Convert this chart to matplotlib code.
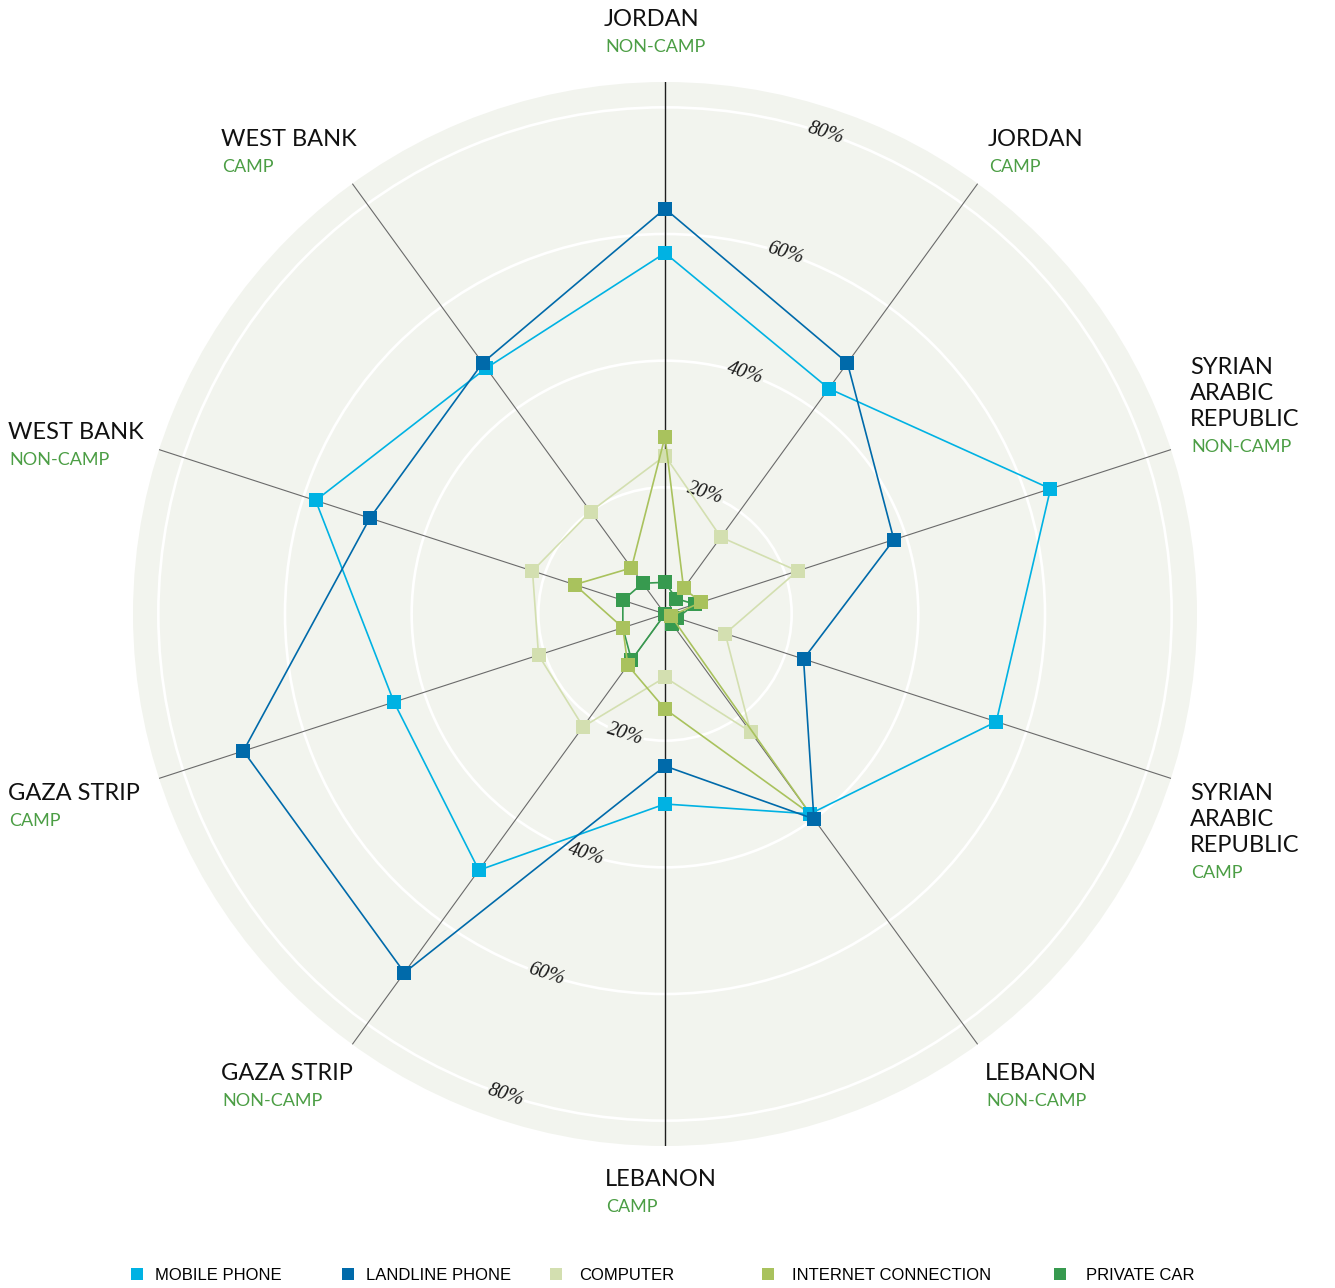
import numpy as np
import matplotlib
matplotlib.use('Agg')
import matplotlib.pyplot as plt
from matplotlib.lines import Line2D

# household ownership (%) by region, clockwise from the top
regions = ['JORDAN', 'JORDAN', 'SYRIAN\nARABIC\nREPUBLIC', 'SYRIAN\nARABIC\nREPUBLIC',
           'LEBANON', 'LEBANON', 'GAZA STRIP', 'GAZA STRIP', 'WEST BANK', 'WEST BANK']
settings = ['NON-CAMP', 'CAMP', 'NON-CAMP', 'CAMP', 'NON-CAMP',
            'CAMP', 'NON-CAMP', 'CAMP', 'NON-CAMP', 'CAMP']

mobile = [57, 44, 64, 55, 39, 30, 50, 45, 58, 48]
landline = [64, 49, 38, 23, 40, 24, 70, 70, 49, 49]
computer = [25, 15, 22, 10, 23, 10, 22, 21, 22, 20]
internet = [28, 5, 6, 1, 39, 15, 10, 7, 15, 9]
car = [5, 3, 5, 2, 2, 0, 9, 7, 7, 6]

ring_ticks = [20, 40, 60, 80]
RMAX = 84

W, H = 1335, 1288
DISC = '#f2f4ee'
GREEN_TXT = '#4c9e45'

# label placement (left x, centre y of first line) in pixels
label_pos = [(604, 20), (988, 140), (1190, 367), (1190, 793), (985, 1073),
             (605, 1180), (221, 1073), (8, 793), (8, 433), (221, 140)]


def fx(x):
    return x / W


def fy(y):
    return 1 - y / H


fig = plt.figure(figsize=(W / 100, H / 100), dpi=100)
fig.patch.set_facecolor('white')

cx, cy, rad = 665, 614, 532
ax = fig.add_axes([(cx - rad) / W, (H - cy - rad) / H, 2 * rad / W, 2 * rad / H],
                  projection='polar')
ax.set_theta_zero_location('N')
ax.set_theta_direction(-1)
ax.set_facecolor(DISC)
ax.spines['polar'].set_visible(False)
ax.set_ylim(0, RMAX)
ax.set_xticks([])
ax.set_yticks(ring_ticks)
ax.set_yticklabels([])
ax.tick_params(length=0)
ax.yaxis.grid(True, color='white', lw=1.9)
ax.xaxis.grid(False)

n = len(settings)
angles = np.arange(n) * 2 * np.pi / n

# spokes
for i, a in enumerate(angles):
    if i in (0, 5):
        ax.plot([a, a], [0, RMAX], color='#1e1e1e', lw=1.0, zorder=2)
    else:
        ax.plot([a, a], [0, RMAX], color='#6a6a6a', lw=0.8, zorder=2)

series = [
    ('PRIVATE CAR', car, '#379a4f'),
    ('COMPUTER', computer, '#d3dfb0'),
    ('INTERNET CONNECTION', internet, '#a9c25d'),
    ('MOBILE PHONE', mobile, '#00b2e3'),
    ('LANDLINE PHONE', landline, '#006aaa'),
]
closed = np.append(angles, angles[0])
for z, (name, vals, col) in enumerate(series):
    v = np.append(vals, vals[0])
    ax.plot(closed, v, color=col, lw=1.2, marker='s', markersize=10,
            markeredgewidth=0, zorder=3 + z)

# ring value labels
for r in ring_ticks:
    for deg in (18.5, 198.3):
        ax.text(np.deg2rad(deg), r, f'{r}%', rotation=-18, rotation_mode='anchor',
                ha='center', va='center', fontsize=14.5, style='italic',
                family=['Liberation Serif', 'DejaVu Serif'], color='#1a1a1a',
                zorder=2.5, bbox=dict(facecolor=DISC, edgecolor='none', pad=0.3))

# category labels
for (x, y), reg, sub in zip(label_pos, regions, settings):
    lines = reg.split('\n')
    for k, line in enumerate(lines):
        fig.text(fx(x), fy(y + 26.5 * k), line, ha='left', va='center',
                 fontsize=17, family='Lato', color='#111111')
    fig.text(fx(x + 1), fy(y + 26.5 * (len(lines) - 1) + 27.5), sub, ha='left',
             va='center', fontsize=13, family='Lato', color=GREEN_TXT)

# legend along the bottom
legend_items = [
    ('MOBILE PHONE', '#00b2e3', 137, 155),
    ('LANDLINE PHONE', '#006aaa', 348, 366),
    ('COMPUTER', '#d3dfb0', 556, 579),
    ('INTERNET CONNECTION', '#a9c25d', 768, 792),
    ('PRIVATE CAR', '#379a4f', 1060, 1086),
]
fs = 12
px_per_fs = fs * 100 / 72
hl = 0.8
for label, col, sx, tx in legend_items:
    h = Line2D([], [], color=col, marker='s', markersize=8, linestyle='none',
               markeredgewidth=0)
    left = sx - hl * px_per_fs / 2
    pad = (tx - (left + hl * px_per_fs)) / px_per_fs
    fig.legend(handles=[h], labels=[label], loc='center left',
               bbox_to_anchor=(fx(left), fy(1275)), frameon=False,
               borderpad=0, borderaxespad=0, handlelength=hl,
               handletextpad=pad,
               prop={'family': ['Liberation Sans Narrow', 'Liberation Sans'], 'size': fs})

fig.savefig('out.png', dpi=100, facecolor='white')
